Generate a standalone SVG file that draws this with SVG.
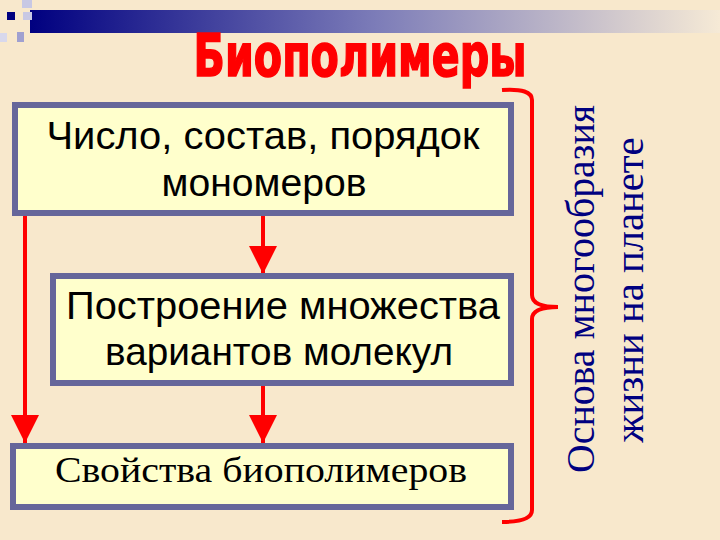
<svg xmlns="http://www.w3.org/2000/svg" width="720" height="540" viewBox="0 0 720 540">
<defs>
<linearGradient id="bar" x1="0" y1="0" x2="1" y2="0">
<stop offset="0" stop-color="#000080"/>
<stop offset="0.5" stop-color="#7c7cb8"/>
<stop offset="1" stop-color="#f6ead6"/>
</linearGradient>
<marker id="ah" viewBox="0 0 10 10" refX="10" refY="5" markerWidth="7" markerHeight="8" markerUnits="strokeWidth" orient="auto">
<path d="M0,0 L10,5 L0,10 Z" fill="#ff0000"/>
</marker>
</defs>
<style>
.box{fill:#ffffcc;stroke:#66669a;stroke-width:6}
.sans{font-family:"Liberation Sans",Arial,sans-serif;font-size:39px;fill:#000;text-anchor:middle}
.serif{font-family:"Liberation Serif","Times New Roman",serif;font-size:36px;fill:#000;text-anchor:middle}
.side{font-family:"Liberation Serif","Times New Roman",serif;font-size:40px;fill:#000080;text-anchor:middle}
.con{stroke:#ff0000;stroke-width:4;fill:none}
</style>
<rect width="720" height="540" fill="#f8e8cc"/>
<g id="banner">
<rect x="30" y="10" width="690" height="23" fill="url(#bar)"/>
<rect x="22" y="0" width="10" height="8" fill="#c8c8e4"/>
<rect x="7" y="12" width="8" height="8" fill="#000080"/>
<rect x="23" y="12" width="9" height="8" fill="#c8c8e4"/>
<rect x="17" y="32" width="7" height="10" fill="#a0a0d0"/>
<rect x="0" y="33" width="7" height="9" fill="#d8d8ec"/>
</g>
<g id="title">
<text x="360" y="76" font-family="'DejaVu Sans Condensed','DejaVu Sans',sans-serif" font-weight="bold" font-size="58" fill="#ff0000" stroke="#ff0000" stroke-width="1.5" text-anchor="middle" textLength="333" lengthAdjust="spacingAndGlyphs">Биополимеры</text>
</g>
<g id="connectors">
<line class="con" x1="25" y1="216" x2="25" y2="443" marker-end="url(#ah)"/>
<line class="con" x1="263" y1="216" x2="263" y2="274" marker-end="url(#ah)"/>
<line class="con" x1="263" y1="386" x2="263" y2="443" marker-end="url(#ah)"/>
</g>
<g id="node1">
<rect class="box" x="15" y="105" width="496" height="108"/>
<text class="sans" x="263" y="149" textLength="433" lengthAdjust="spacingAndGlyphs">Число, состав, порядок</text>
<text class="sans" x="264" y="196" textLength="205" lengthAdjust="spacingAndGlyphs">мономеров</text>
</g>
<g id="node2">
<rect class="box" x="53" y="276" width="458" height="107"/>
<text class="sans" x="283" y="319" textLength="434" lengthAdjust="spacingAndGlyphs">Построение множества</text>
<text class="sans" x="279" y="365" textLength="348" lengthAdjust="spacingAndGlyphs">вариантов молекул</text>
</g>
<g id="node3">
<rect class="box" x="13" y="446" width="498" height="61"/>
<text class="serif" x="261" y="482" textLength="412" lengthAdjust="spacingAndGlyphs">Свойства биополимеров</text>
</g>
<g id="brace">
<path class="con" stroke-width="5" d="M502,90 Q532,88 532,100 L532,295 Q532,307 558,307 Q532,307 532,319 L532,510 Q532,522 502,522"/>
</g>
<g id="side-label">
<text class="side" transform="translate(594,289) rotate(-90)" textLength="368" lengthAdjust="spacingAndGlyphs">Основа многообразия</text>
<text class="side" transform="translate(643,290) rotate(-90)" textLength="305" lengthAdjust="spacingAndGlyphs">жизни на планете</text>
</g>
</svg>
